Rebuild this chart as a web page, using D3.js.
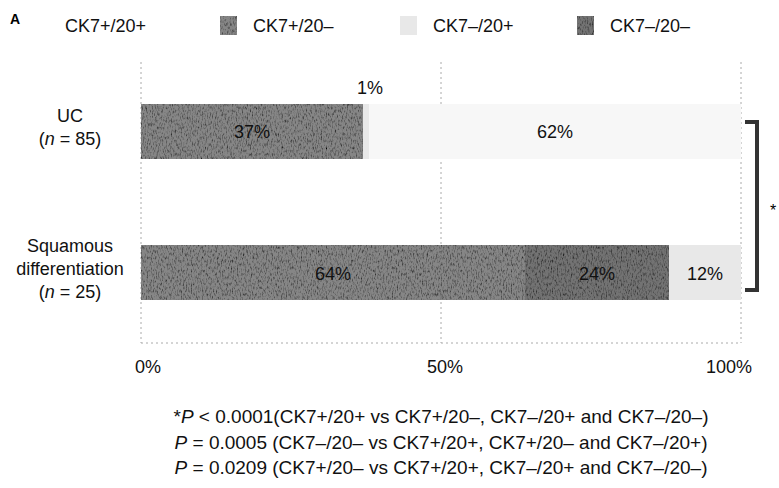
<!DOCTYPE html>
<html><head><meta charset="utf-8">
<script src="https://cdn.jsdelivr.net/npm/d3@7"></script>
<style>body{margin:0;background:#fff}svg{display:block;font-family:"Liberation Sans",Arial,sans-serif}</style>
</head><body>
<script>
const groups = ["UC", "Squamous differentiation"];
const groupLabels = [["UC", "(n = 85)"], ["Squamous", "differentiation", "(n = 25)"]];
const seriesNames = ["CK7+/20–", "CK7–/20–", "CK7–/20+", "CK7+/20+"];
const legendOrder = ["CK7+/20+", "CK7+/20–", "CK7–/20+", "CK7–/20–"];
const valuesCK7p20n = [37, 64];
const valuesCK7n20n = [0, 24];
const valuesCK7n20p = [1, 12];
const valuesCK7p20p = [62, 0];
const xTicks = [0, 50, 100];
const notes = [
  ["*", "P", " < 0.0001(CK7+/20+ vs CK7+/20–, CK7–/20+ and CK7–/20–)"],
  ["", "P", " = 0.0005 (CK7–/20– vs CK7+/20+, CK7+/20– and CK7–/20+)"],
  ["", "P", " = 0.0209 (CK7+/20– vs CK7+/20+, CK7–/20+ and CK7–/20–)"]
];
const colors = {"CK7+/20+": "#f7f7f7", "CK7+/20–": "#868686", "CK7–/20+": "#e8e8e8", "CK7–/20–": "#737373"};

const W = 779, H = 488;
const svg = d3.select("body").append("svg").attr("width", W).attr("height", H);

const x = d3.scaleLinear().domain([0, 100]).range([141, 741]);
const y = d3.scaleBand().domain(groups).range([104, 300]).paddingInner(0.61).paddingOuter(0);

// texture filter
const defs = svg.append("defs");
const f = defs.append("filter").attr("id", "grain").attr("x", 0).attr("y", 0).attr("width", 1).attr("height", 1);
f.append("feTurbulence").attr("type", "fractalNoise").attr("baseFrequency", "0.8 0.3").attr("numOctaves", 2).attr("seed", 3).attr("result", "n");
f.append("feColorMatrix").attr("in", "n").attr("type", "matrix")
  .attr("values", "0 0 0 0 0  0 0 0 0 0  0 0 0 0 0  0 0 0 2.2 -1.0").attr("result", "m");
f.append("feComposite").attr("in", "m").attr("in2", "SourceGraphic").attr("operator", "in").attr("result", "d");
f.append("feMerge").selectAll("feMergeNode").data(["SourceGraphic", "d"]).join("feMergeNode").attr("in", d => d);

// grid lines
svg.append("g").selectAll("line").data(xTicks).join("line")
  .attr("x1", d => x(d)).attr("x2", d => x(d)).attr("y1", 62).attr("y2", 343)
  .attr("stroke", "#aaa").attr("stroke-width", 1).attr("stroke-dasharray", "2,3");
svg.append("line").attr("x1", x(0)).attr("x2", x(100)).attr("y1", 343).attr("y2", 343)
  .attr("stroke", "#aaa").attr("stroke-dasharray", "2,3");

// data table
const table = groups.map((g, i) => ({group: g, "CK7+/20–": valuesCK7p20n[i], "CK7–/20–": valuesCK7n20n[i], "CK7–/20+": valuesCK7n20p[i], "CK7+/20+": valuesCK7p20p[i]}));
const stack = d3.stack().keys(seriesNames)(table);

const layers = svg.append("g").selectAll("g").data(stack).join("g")
  .attr("fill", d => colors[d.key]);
layers.selectAll("rect").data(d => d.map(v => ({v, key: d.key}))).join("rect")
  .attr("x", d => x(d.v[0])).attr("width", d => x(d.v[1]) - x(d.v[0]))
  .attr("y", d => y(d.v.data.group)).attr("height", y.bandwidth())
  .attr("filter", d => (d.key === "CK7+/20–" || d.key === "CK7–/20–") ? "url(#grain)" : null);

// value labels
const lab = [];
stack.forEach(s => s.forEach(v => {
  const val = v[1] - v[0];
  if (val <= 0) return;
  const g = v.data.group;
  if (val < 5) lab.push({x: x((v[0] + v[1]) / 2) + 4, y: y(g) - 10, t: val + "%"});
  else lab.push({x: x((v[0] + v[1]) / 2), y: y(g) + y.bandwidth() / 2 + 7, t: val + "%"});
}));
svg.append("g").selectAll("text").data(lab).join("text")
  .attr("x", d => d.x).attr("y", d => d.y).attr("text-anchor", "middle")
  .attr("font-size", 18).attr("fill", "#111").text(d => d.t);

// x tick labels
svg.append("g").selectAll("text").data(xTicks).join("text")
  .attr("x", d => x(d) + (d === 100 ? -12 : d === 0 ? 7 : 4)).attr("y", 373).attr("text-anchor", "middle")
  .attr("font-size", 18).attr("fill", "#111").text(d => d + "%");

// y labels
groups.forEach((g, i) => {
  const lines = groupLabels[i];
  const cy = y(g) + y.bandwidth() / 2;
  const lh = 23;
  const t = svg.append("text").attr("text-anchor", "middle").attr("font-size", 18).attr("fill", "#111");
  lines.forEach((ln, j) => {
    const ts = t.append("tspan").attr("x", 70).attr("y", cy - (lines.length - 1) * lh / 2 + j * lh + 2);
    if (ln.startsWith("(n")) {
      ts.append("tspan").text("(");
      ts.append("tspan").attr("font-style", "italic").text("n");
      ts.append("tspan").text(ln.slice(2));
    } else ts.text(ln);
  });
});

// legend
svg.append("text").attr("x", 10).attr("y", 24).attr("font-size", 14).attr("font-weight", "bold").text("A");
const legX = [65, 220, 400, 577];
legendOrder.forEach((k, i) => {
  const g = svg.append("g");
  if (k !== "CK7+/20+") {
    g.append("rect").attr("x", legX[i]).attr("y", 16).attr("width", 17).attr("height", 19)
      .attr("fill", colors[k]).attr("filter", (k === "CK7+/20–" || k === "CK7–/20–") ? "url(#grain)" : null);
  }
  g.append("text").attr("x", k === "CK7+/20+" ? legX[i] : legX[i] + 33).attr("y", 32)
    .attr("font-size", 18).attr("fill", "#111").text(k);
});

// significance bracket
const bt = y(groups[0]) + 18, bb = y(groups[1]) + 45;
svg.append("path").attr("d", `M745,${bt} H757 V${bb} H745`).attr("fill", "none")
  .attr("stroke", "#333").attr("stroke-width", 4);
svg.append("text").attr("x", 773).attr("y", (bt + bb) / 2 + 10).attr("text-anchor", "middle")
  .attr("font-size", 16).text("*");

// notes
notes.forEach((n, i) => {
  const t = svg.append("text").attr("x", 441).attr("y", 423 + i * 25.5).attr("text-anchor", "middle")
    .attr("font-size", 19).attr("fill", "#111");
  if (n[0]) t.append("tspan").text(n[0]);
  t.append("tspan").attr("font-style", "italic").text(n[1]);
  t.append("tspan").text(n[2]);
});
</script>
</body></html>
